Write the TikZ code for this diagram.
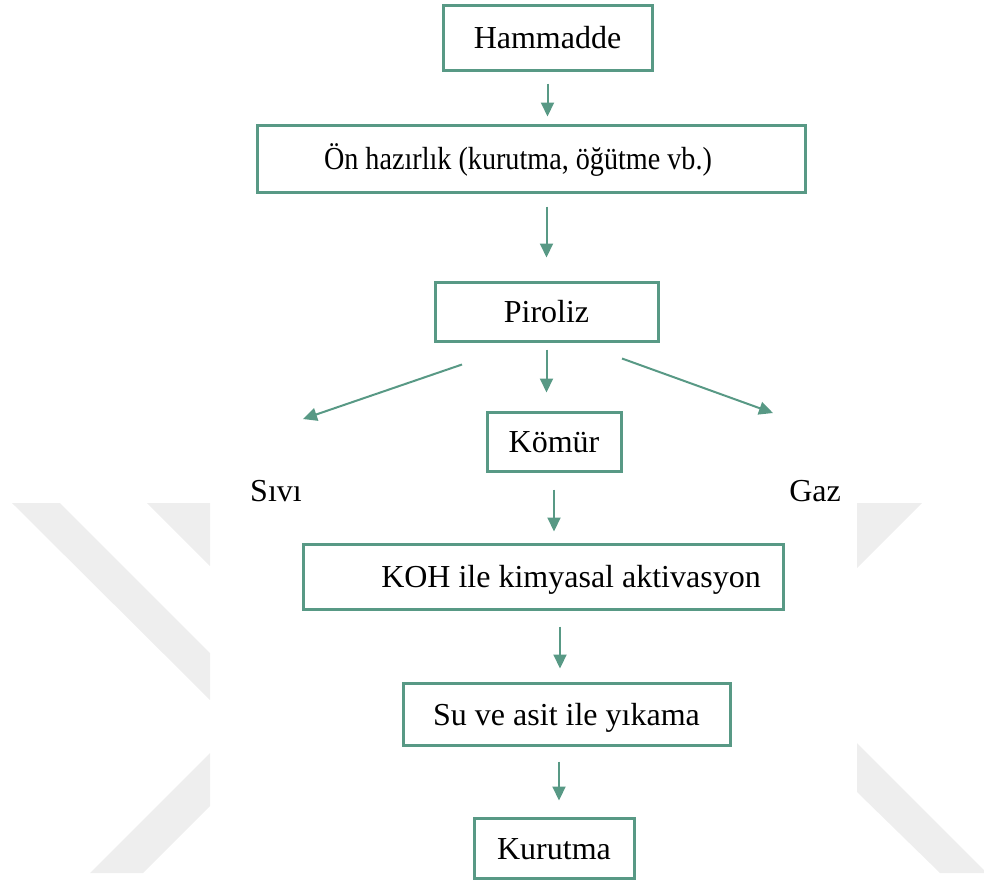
\documentclass[tikz,border=0pt]{standalone}
\usepackage{fontspec}
\setmainfont{Liberation Serif}
\newfontfamily\narrowserif[FakeStretch=0.88]{Liberation Serif}
\usetikzlibrary{arrows.meta,calc}
\definecolor{teal1}{RGB}{88,153,133}
\definecolor{wmgray}{RGB}{238,238,238}
\tikzset{
  box/.style={draw=teal1, line width=1.5pt, fill=white, inner sep=0pt,
    font=\fontsize{16}{19}\selectfont, text height=14pt, text depth=3pt},
  lbl/.style={inner sep=0pt, font=\fontsize{16}{19}\selectfont, text height=14pt, text depth=3pt},
  arr/.style={draw=teal1, line width=1pt, -{Triangle[length=7pt,width=6.5pt]}},
  wm/.style={fill=wmgray}
}
\begin{document}
\begin{tikzpicture}[x=0.5pt,y=-0.5pt]
\useasboundingbox (0,0) rectangle (984,885);
% watermark
\fill[wm] (12,503) -- (60,503) -- (210,653) -- (210,700) -- cycle;
\fill[wm] (147,503) -- (210,503) -- (210,566) -- cycle;
\fill[wm] (90,873) -- (143,873) -- (210,806) -- (210,753) -- cycle;
\fill[wm] (857,503) -- (922,503) -- (857,568) -- cycle;
\fill[wm] (857,743) -- (984,870) -- (984,873) -- (940,873) -- (857,792) -- cycle;
% boxes
\node[box, minimum width=104.5pt, minimum height=32.5pt] (ham) at (547.5,37.5) {Hammadde};
\node[box, minimum width=274pt, minimum height=33.5pt,
  label={[lbl,xshift=-6.5pt,font=\fontsize{16}{19}\narrowserif]center:Ön hazırlık (kurutma, öğütme vb.)}] (on) at (531,158.5) {};
\node[box, minimum width=111.5pt, minimum height=29.5pt] (pir) at (546.5,311.5) {Piroliz};
\node[box, minimum width=67pt, minimum height=29.5pt] (kom) at (554,441.5) {Kömür};
\node[box, minimum width=240pt, minimum height=32.5pt,
  label={[lbl,xshift=14pt]center:KOH ile kimyasal aktivasyon}] (koh) at (543,576.5) {};
\node[box, minimum width=163.5pt, minimum height=31pt] (su) at (566.5,714) {Su ve asit ile yıkama};
\node[box, minimum width=80pt, minimum height=30pt] (kur) at (554,848) {Kurutma};
\node[lbl] (siv) at (276,490) {Sıvı};
\node[lbl] (gaz) at (815,490) {Gaz};
% connectors
\draw[arr, shorten <=6pt, shorten >=3.5pt] (ham.south) -- (ham.south |- on.north);
\draw[arr, shorten <=6.5pt, shorten >=11.5pt] (pir.north |- on.south) -- (pir.north);
\draw[arr, shorten <=3.5pt, shorten >=9pt] (pir.south) -- (pir.south |- kom.north);
\coordinate (p1) at ($(pir.south)+(-84.5,22)$);
\coordinate (s1) at ($(siv)+(27,-71)$);
\draw[arr] (p1) -- (s1);
\coordinate (p2) at ($(pir.south)+(75.5,16)$);
\coordinate (g1) at ($(gaz)+(-42,-77)$);
\draw[arr] (p2) -- (g1);
\draw[arr, shorten <=8.5pt, shorten >=5.5pt] (kom.south) -- (kom.south |- koh.north);
\coordinate (a5) at ($(su.north)+(-6.5,0)$);
\draw[arr, shorten <=8pt, shorten >=6.5pt] (a5 |- koh.south) -- (a5);
\coordinate (a6) at ($(kur.north)+(5,0)$);
\draw[arr, shorten <=7.5pt, shorten >=8pt] (a6 |- su.south) -- (a6);
\end{tikzpicture}
\end{document}
